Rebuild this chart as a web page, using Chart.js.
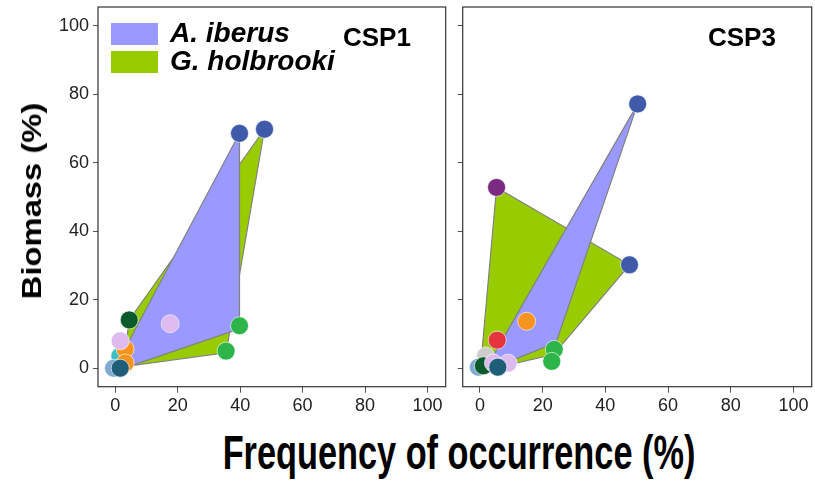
<!DOCTYPE html>
<html>
<head>
<meta charset="utf-8">
<script src="https://cdn.jsdelivr.net/npm/chart.js@4/dist/chart.umd.min.js"></script>
<style>
  body { margin: 0; background: #fff; width: 815px; height: 481px; position: relative; overflow: hidden;
         font-family: "Liberation Sans", Arial, sans-serif; color: #000; }
  canvas { position: absolute; top: 0; }
  #c1 { left: 0; }
  #c2 { left: 450px; }
  .txt { position: absolute; white-space: nowrap; font-weight: bold; }
  .box { position: absolute; width: 47px; height: 22px; }
</style>
</head>
<body>
<canvas id="c1" width="450" height="420"></canvas>
<canvas id="c2" width="365" height="420"></canvas>

<div class="box" style="left:111px;top:23px;background:#9999FF"></div>
<div class="box" style="left:111px;top:51px;background:#99CC00"></div>
<div class="txt" style="left:170px;top:19px;font-size:28px;line-height:28px;font-style:italic">A. iberus</div>
<div class="txt" style="left:170px;top:47px;font-size:28px;line-height:28px;font-style:italic">G. holbrooki</div>
<div class="txt" style="left:343px;top:24px;font-size:26px;line-height:26px">CSP1</div>
<div class="txt" style="left:708px;top:24px;font-size:26px;line-height:26px">CSP3</div>
<div class="txt" style="left:32px;top:201px;font-size:28px;line-height:28px;transform:translate(-50%,-50%) rotate(-90deg) scaleX(1.17)">Biomass (%)</div>
<div class="txt" style="left:459px;top:452px;font-size:49px;line-height:49px;transform:translate(-50%,-50%) scaleX(0.70)">Frequency of occurrence (%)</div>

<script>
const xTicks = [0, 20, 40, 60, 80, 100];
const yTicks = [0, 20, 40, 60, 80, 100];
const speciesFill = ['#9999FF', '#99CC00']; // A. iberus, G. holbrooki

// CSP1 prey items: frequency of occurrence (%), biomass (%)
const csp1Freq    = [1.5, 3.2, 3.2, 1.6, -0.5, 1.6, 4.5, 17.6, 39.8, 35.5, 39.8, 47.8];
const csp1Biomass = [3.5, 5.6, 1.5, 8.0, 0.0, 0.0, 14.1, 13.0, 12.4, 5.0, 68.6, 69.8];
const csp1Colors  = ['#3BBFC4', '#F7941D', '#F7941D', '#DDBBEE', '#7FAAD2', '#1E5E78',
                     '#0B5A2C', '#DDBBEE', '#2DB54A', '#2DB54A', '#3E5AA9', '#3E5AA9'];

// CSP1 hulls
const csp1IberusX = [39.8, 39.8, 5.0, 4.5];
const csp1IberusY = [68.6, 11.5, 0.7, 8.0];
const csp1HolbX   = [47.8, 35.5, 2.5, 4.5];
const csp1HolbY   = [69.8, 4.5, 0.4, 14.1];

// CSP3 prey items
const csp3Freq    = [1.8, -0.5, 1.1, 4.3, 9.0, 5.7, 5.5, 14.9, 23.7, 22.9, 5.3, 47.7, 50.3];
const csp3Biomass = [3.6, 0.3, 0.7, 1.5, 1.5, 0.3, 8.2, 13.7, 5.5, 2.0, 52.8, 30.2, 77.2];
const csp3Colors  = ['#CCCCCC', '#7FAAD2', '#0B5A2C', '#DDBBEE', '#DDBBEE', '#1E5E78',
                     '#E6343F', '#F7941D', '#2DB54A', '#2DB54A', '#7A2B81', '#3E5AA9', '#3E5AA9'];

// CSP3 hulls
const csp3IberusX = [50.3, 24.3, 9.5, 3.5];
const csp3IberusY = [77.2, 7.5, 2.0, 2.5];
const csp3HolbX   = [5.3, 47.7, 23.5, 9.0, 0.5];
const csp3HolbY   = [52.8, 30.2, 4.0, 1.0, 3.4];

const FONT = '"Liberation Sans", Arial, sans-serif';

const framePlugin = {
    id: 'frame',
    afterDraw(chart) {
        const a = chart.chartArea;
        const ctx = chart.ctx;
        ctx.save();
        ctx.strokeStyle = '#333';
        ctx.lineWidth = 1.2;
        ctx.strokeRect(a.left, a.top, a.right - a.left, a.bottom - a.top);
        ctx.restore();
    }
};

function toPts(xs, ys) {
    return xs.map(function(v, i) { return { x: v, y: ys[i] }; });
}

function hull(xs, ys, k) {
    const pts = toPts(xs, ys);
    pts.push(pts[0]);
    return {
        type: 'scatter',
        data: pts,
        showLine: true,
        tension: 0,
        borderColor: '#808080',
        borderWidth: 1.2,
        backgroundColor: speciesFill[k],
        fill: 'shape',
        pointRadius: 0,
        pointHoverRadius: 0,
        order: k + 1,
    };
}

function makePanel(id, yWidth, padRight, showYLabels, freq, biomass, colors, hulls) {
    return new Chart(document.getElementById(id), {
        type: 'scatter',
        data: {
            datasets: [
                {
                    data: toPts(freq, biomass),
                    backgroundColor: colors,
                    borderColor: 'rgba(255,255,255,0.6)',
                    borderWidth: 1,
                    pointRadius: 9,
                    pointHoverRadius: 9,
                    order: 0,
                },
                hull(hulls[0], hulls[1], 0),
                hull(hulls[2], hulls[3], 1),
            ]
        },
        options: {
            responsive: false,
            animation: false,
            events: [],
            layout: { autoPadding: false, padding: { left: 0, right: padRight, top: 7, bottom: 0 } },
            plugins: { legend: { display: false }, tooltip: { enabled: false } },
            scales: {
                x: {
                    type: 'linear',
                    min: -5.5,
                    max: 105.8,
                    afterBuildTicks: function(s) { s.ticks = xTicks.map(function(v) { return { value: v }; }); },
                    afterFit: function(s) { s.height = 33.3; s.paddingLeft = 0; s.paddingRight = 0; },
                    grid: { drawOnChartArea: false, tickLength: 6, tickColor: '#555', lineWidth: 1 },
                    border: { display: false },
                    ticks: { font: { family: FONT, size: 18 }, color: '#222', padding: 3, maxRotation: 0, autoSkip: false },
                },
                y: {
                    type: 'linear',
                    min: -5.4,
                    max: 105.5,
                    afterBuildTicks: function(s) { s.ticks = yTicks.map(function(v) { return { value: v }; }); },
                    afterFit: function(s) { s.width = yWidth; s.paddingTop = 0; s.paddingBottom = 0; },
                    grid: { drawOnChartArea: false, tickLength: 5, tickColor: '#555', lineWidth: 1 },
                    border: { display: false },
                    ticks: { display: showYLabels, font: { family: FONT, size: 18 }, color: '#222', padding: 4, autoSkip: false },
                }
            }
        },
        plugins: [framePlugin]
    });
}

makePanel('c1', 98, 4.3, true, csp1Freq, csp1Biomass, csp1Colors,
          [csp1IberusX, csp1IberusY, csp1HolbX, csp1HolbY]);
makePanel('c2', 12.7, 3.3, false, csp3Freq, csp3Biomass, csp3Colors,
          [csp3IberusX, csp3IberusY, csp3HolbX, csp3HolbY]);
</script>
</body>
</html>
